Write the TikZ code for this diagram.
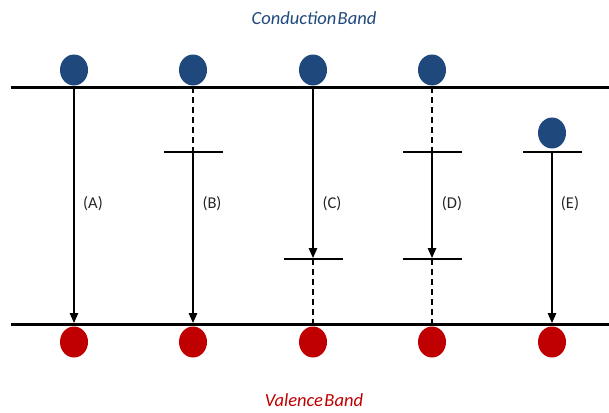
\documentclass[tikz,border=0pt]{standalone}
\usepackage{fontspec}
\setmainfont{Carlito}
\usetikzlibrary{arrows.meta,shapes.geometric}
\definecolor{cbblue}{RGB}{31,73,125}
\definecolor{vbred}{RGB}{192,0,0}
\begin{document}
\begin{tikzpicture}[x=1pt,y=1pt,
  band/.style={line width=3pt},
  trap/.style={line width=2.4pt},
  link/.style={line width=1.5pt},
  arr/.style={link,-{Triangle[length=10pt,width=8.5pt]}},
  dsh/.style={link,dash pattern=on 6pt off 4pt},
  bluedot/.style={ellipse,fill=cbblue,minimum width=28pt,minimum height=31pt,inner sep=0pt},
  reddot/.style={ellipse,fill=vbred,minimum width=28pt,minimum height=31pt,inner sep=0pt},
  lbl/.style={font=\fontsize{16.5}{18}\selectfont,text=black!85},
  title/.style={font=\fontsize{18.5}{20}\selectfont\itshape}]
\useasboundingbox (0,0) rectangle (609,-412);
% titles
\node[title,text=cbblue] (cb) at (314,-18) {Conduction\hspace{-0.15em} Band};
\node[title,text=vbred] (vb) at (314,-400) {Valence\hspace{-0.15em} Band};
% dots
\node[bluedot] (e1) at (74,-70) {};
\node[bluedot] (e2) at (193,-70) {};
\node[bluedot] (e3) at (313,-70) {};
\node[bluedot] (e4) at (432,-70) {};
\node[bluedot] (e5) at (552,-133) {};
\node[reddot] (h1) at (74,-342) {};
\node[reddot] (h2) at (193,-342) {};
\node[reddot] (h3) at (313,-342) {};
\node[reddot] (h4) at (432,-342) {};
\node[reddot] (h5) at (552,-342) {};
% band edges
\coordinate (cl) at (11,-87);
\coordinate (cr) at (609,-87);
\coordinate (vl) at (11,-324);
\coordinate (vr) at (609,-324);
\draw[band] (cl) -- (cr);
\draw[band] (vl) -- (vr);
% points on bands
\foreach \i/\x in {1/74,2/193,3/313,4/432,5/552}{
  \coordinate (t\i) at (\x,-87);
  \coordinate (b\i) at (\x,-323);
  \coordinate (bb\i) at (\x,-324);
}
% trap levels
\coordinate (tB) at (193,-152);
\coordinate (tC) at (313,-259);
\coordinate (tD1) at (432,-152);
\coordinate (tD2) at (432,-259);
\coordinate (tE) at (552,-152);
\draw[trap] ([xshift=-29pt]tB) -- ([xshift=30pt]tB);
\draw[trap] ([xshift=-29pt]tC) -- ([xshift=30pt]tC);
\draw[trap] ([xshift=-29pt]tD1) -- ([xshift=30pt]tD1);
\draw[trap] ([xshift=-29pt]tD2) -- ([xshift=30pt]tD2);
\draw[trap] ([xshift=-29pt]tE) -- ([xshift=30pt]tE);
% transitions
\draw[arr] (t1) -- (b1);
\draw[dsh] (t2) -- (tB);
\draw[arr] (tB) -- (b2);
\draw[arr] (t3) -- ([yshift=1pt]tC);
\draw[dsh] (tC) -- (bb3);
\draw[dsh] (t4) -- (tD1);
\draw[arr] (tD1) -- ([yshift=1pt]tD2);
\draw[dsh] (tD2) -- (bb4);
\draw[arr] (tE) -- (b5);
% labels
\node[lbl] (la) at (93,-204) {(A)};
\node[lbl] (lb) at (212,-204) {(B)};
\node[lbl] (lc) at (332,-204) {(C)};
\node[lbl] (ld) at (452,-204) {(D)};
\node[lbl] (le) at (570,-204) {(E)};
\end{tikzpicture}
\end{document}
